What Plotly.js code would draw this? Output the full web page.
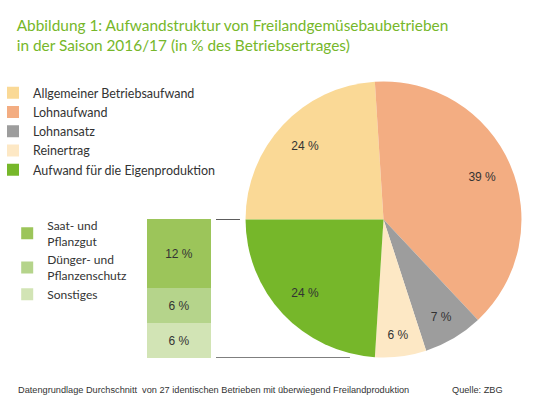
<!DOCTYPE html>
<html>
<head>
<meta charset="utf-8">
<script src="https://cdn.plot.ly/plotly-3.0.1.min.js"></script>
<style>html,body{margin:0;padding:0;background:#fff;}#chart{width:540px;height:420px;}</style>
</head>
<body>
<div id="chart"></div>
<script>
// Pie: Aufwandstruktur (in % des Betriebsertrages)
const pieLabels = ['Allgemeiner Betriebsaufwand', 'Lohnaufwand', 'Lohnansatz', 'Reinertrag', 'Aufwand für die Eigenproduktion'];
const pieValues = [24, 39, 7, 6, 24];
const pieColors = ['#fad996', '#f3ad82', '#9d9d9d', '#fde8c5', '#76b72a'];

// Breakdown of "Aufwand für die Eigenproduktion" (stack bottom to top)
const barCategory = ['Eigenproduktion'];
const barLabels = ['Sonstiges', 'Dünger- und<br>Pflanzenschutz', 'Saat- und<br>Pflanzgut'];
const barValues = [6, 6, 12];
const barColors = ['#d2e4b5', '#b5d48b', '#9cc55a'];

const titleText = 'Abbildung 1: Aufwandstruktur von Freilandgemüsebaubetrieben<br>in der Saison 2016/17 (in % des Betriebsertrages)';
const footLeft = 'Datengrundlage Durchschnitt  von 27 identischen Betrieben mit überwiegend Freilandproduktion';
const footRight = 'Quelle: ZBG';

const textFont = 'Lato, "Open Sans", sans-serif';
const narrowFont = '"Liberation Sans Narrow", "Liberation Sans", Arial, sans-serif';
const pieDomain = {x: [0.4537, 0.9667], y: [0.149, 0.806]};

const traces = [];
// filled pie (slices + legend)
traces.push({
  type: 'pie',
  labels: pieLabels,
  values: pieValues,
  marker: {colors: pieColors, line: {width: 0}},
  sort: false,
  direction: 'clockwise',
  rotation: -90,
  domain: pieDomain,
  textinfo: 'none',
  legend: 'legend',
  hoverinfo: 'label+percent'
});
// same data as a transparent ring, only to place the value labels further out
traces.push({
  type: 'pie',
  labels: pieLabels,
  values: pieValues,
  marker: {colors: pieLabels.map(() => 'rgba(0,0,0,0)'), line: {width: 0}},
  hole: 0.56,
  sort: false,
  direction: 'clockwise',
  rotation: -90,
  domain: pieDomain,
  texttemplate: '%{value} %',
  textposition: 'inside',
  insidetextorientation: 'horizontal',
  textfont: {family: narrowFont, size: 12, color: '#333'},
  showlegend: false,
  hoverinfo: 'skip'
});
for (let i = 0; i < barLabels.length; i++) {
  traces.push({
    type: 'bar',
    x: barCategory,
    y: [barValues[i]],
    name: barLabels[i],
    marker: {color: barColors[i], line: {width: 0}},
    text: [barValues[i] + ' %'],
    textposition: 'inside',
    insidetextanchor: 'middle',
    textfont: {family: narrowFont, size: 12, color: '#333'},
    legend: 'legend2',
    xaxis: 'x',
    yaxis: 'y'
  });
}

const layout = {
  width: 540,
  height: 420,
  margin: {l: 0, r: 0, t: 0, b: 0},
  paper_bgcolor: '#fff',
  plot_bgcolor: '#fff',
  showlegend: true,
  barmode: 'stack',
  bargap: 0,
  title: {
    text: titleText,
    font: {family: textFont, size: 15.4, color: '#76b72a'},
    x: 0.031, xanchor: 'left', xref: 'container',
    y: 0.927, yanchor: 'top', yref: 'container'
  },
  xaxis: {domain: [0.2722, 0.3907], range: [-0.5, 0.5], visible: false, fixedrange: true},
  yaxis: {domain: [0.1476, 0.4786], range: [0, 24], visible: false, fixedrange: true},
  legend: {
    x: 0, xanchor: 'left', y: 0.814, yanchor: 'top', indentation: -7,
    font: {family: textFont, size: 12.5, color: '#333'},
    bgcolor: 'rgba(0,0,0,0)', traceorder: 'normal'
  },
  legend2: {
    x: 0.03, xanchor: 'left', y: 0.497, yanchor: 'top', indentation: -9,
    font: {family: textFont, size: 12, color: '#333'},
    bgcolor: 'rgba(0,0,0,0)', traceorder: 'reversed'
  },
  shapes: [
    {type: 'line', xref: 'paper', yref: 'y', x0: 0.4, x1: 0.4444, y0: 24, y1: 24, line: {color: '#222', width: 1.5}},
    {type: 'line', xref: 'paper', yref: 'y', x0: 0.4, x1: 0.648, y0: 0, y1: 0, line: {color: '#555', width: 1.5}}
  ],
  annotations: [
    {text: footLeft, xref: 'paper', yref: 'paper', x: 0.03, y: 0.071, xanchor: 'left', yanchor: 'middle', showarrow: false,
     font: {family: narrowFont, size: 9.2, color: '#333'}},
    {text: footRight, xref: 'paper', yref: 'paper', x: 0.935, y: 0.071, xanchor: 'right', yanchor: 'middle', showarrow: false,
     font: {family: narrowFont, size: 9.2, color: '#333'}}
  ]
};

Plotly.newPlot('chart', traces, layout, {displayModeBar: false, staticPlot: true});
</script>
</body>
</html>
